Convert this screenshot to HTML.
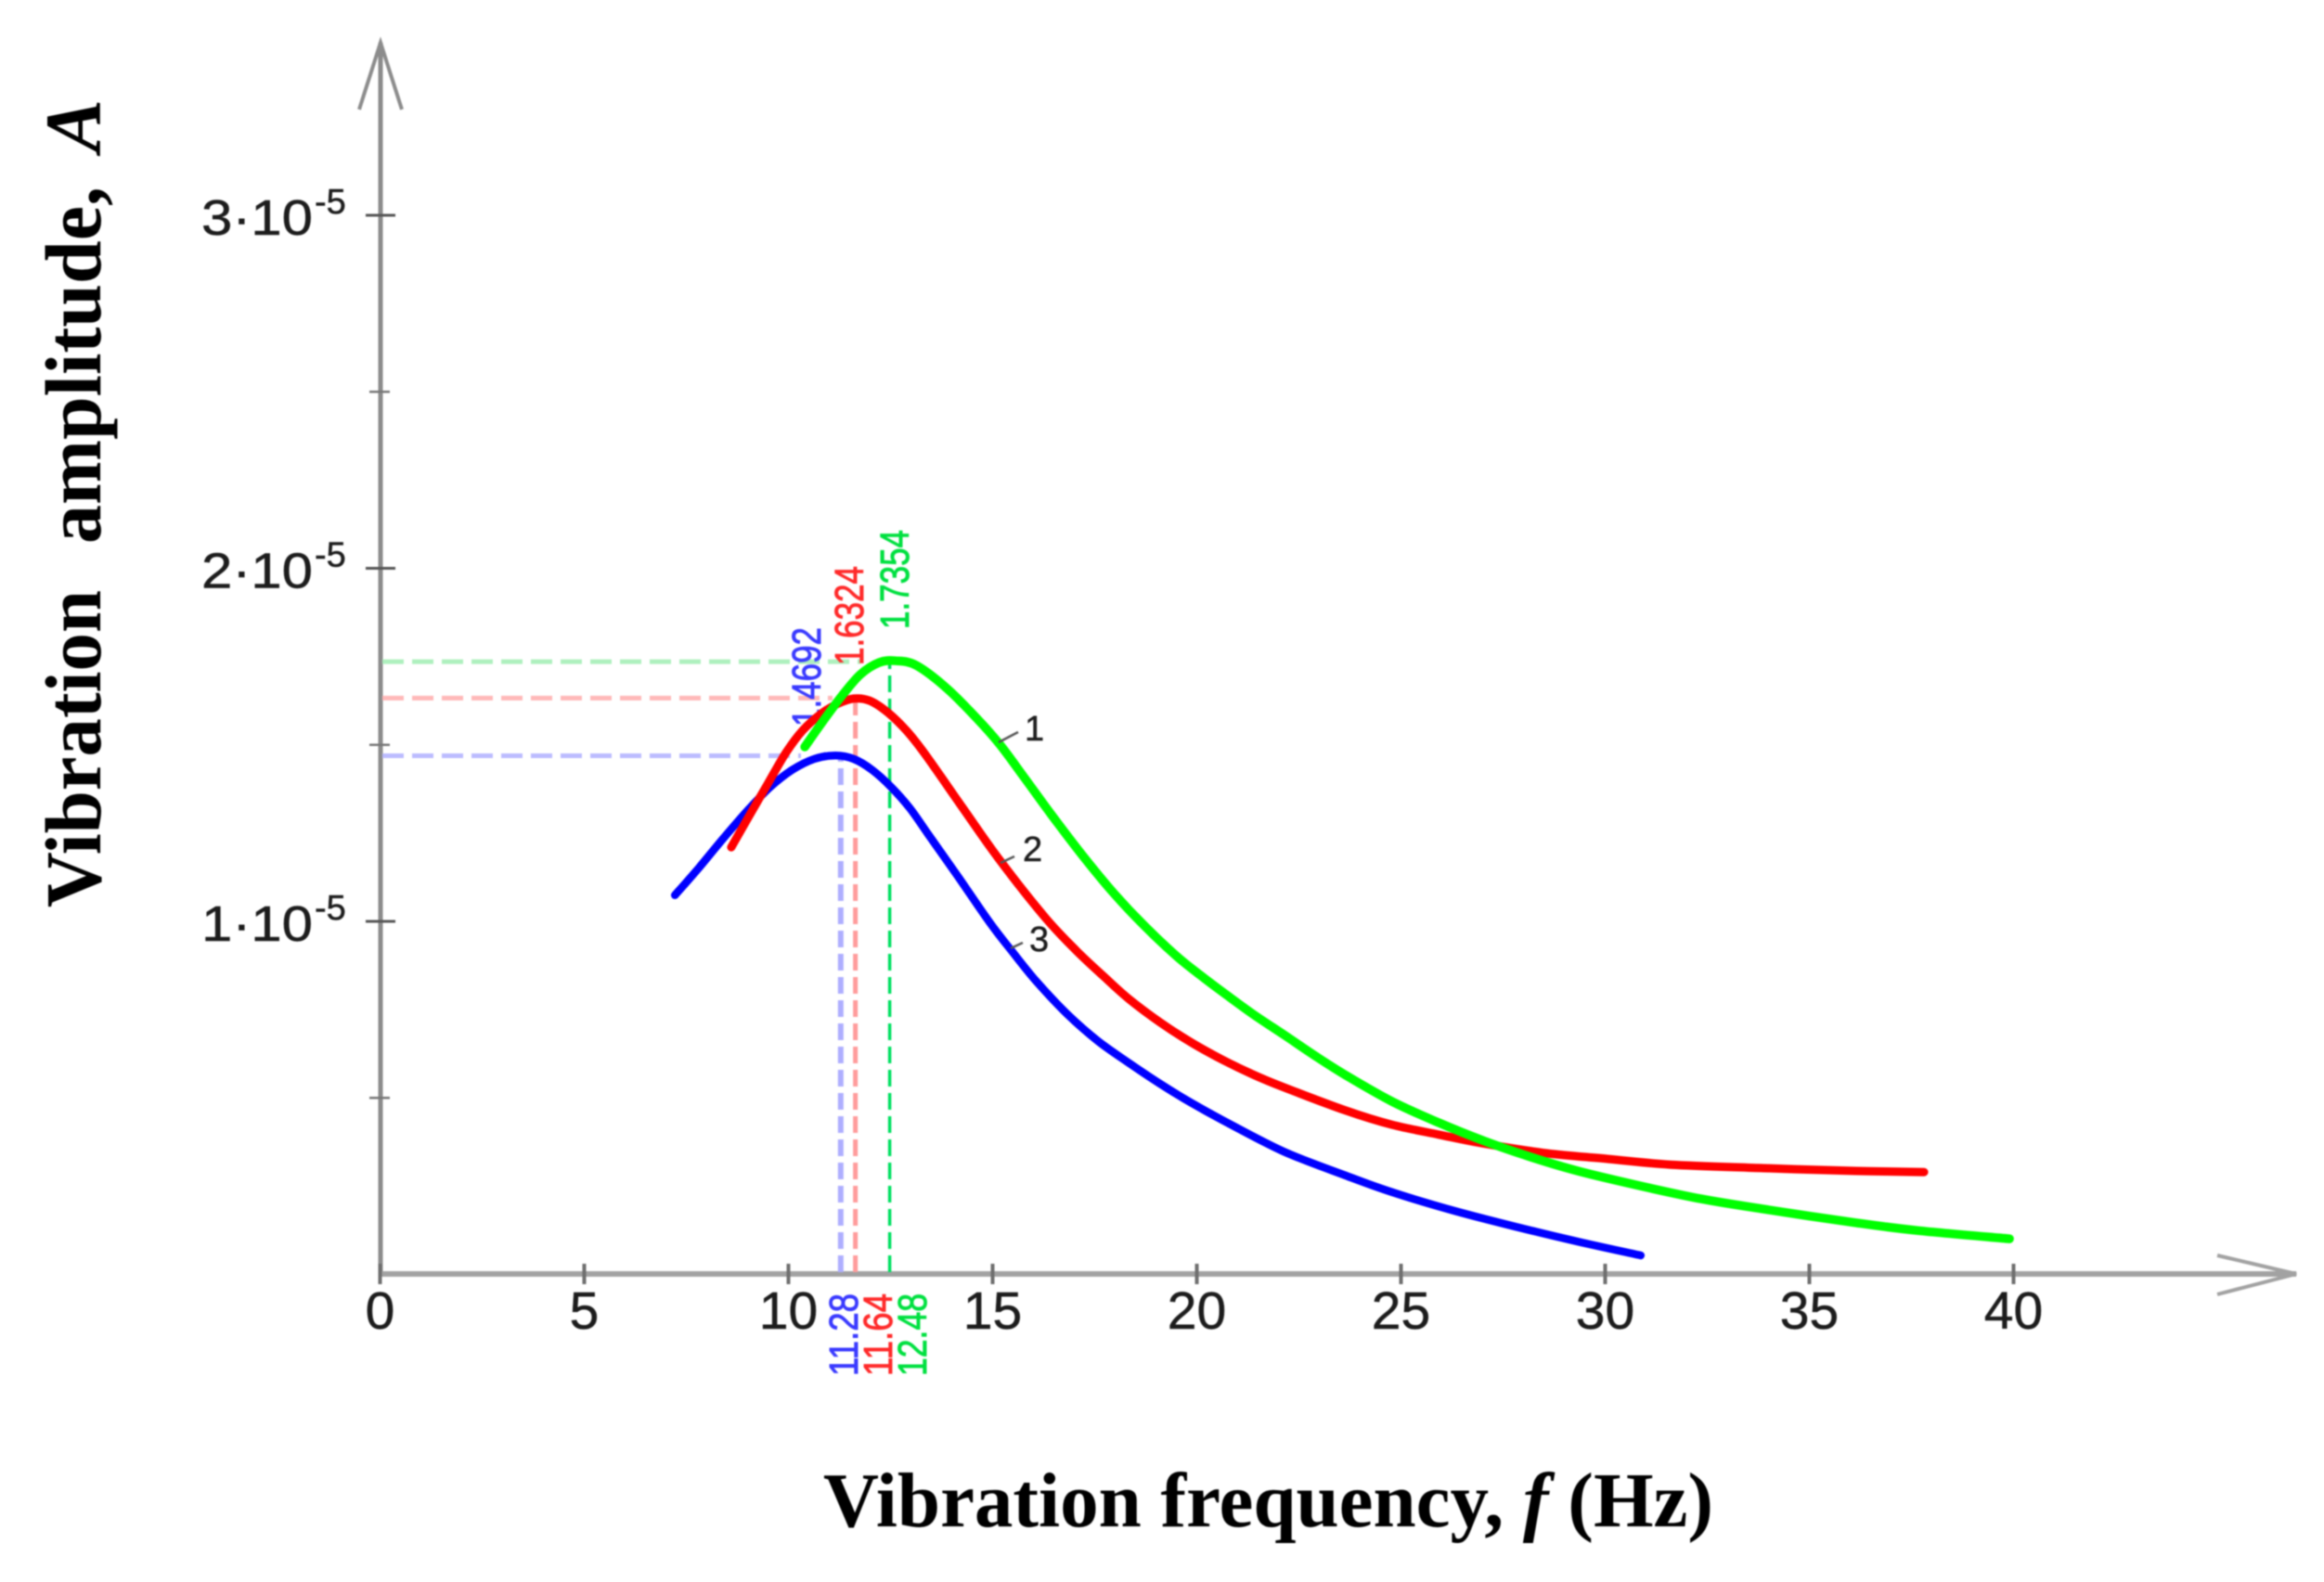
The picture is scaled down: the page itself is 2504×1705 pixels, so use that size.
<!DOCTYPE html>
<html>
<head>
<meta charset="utf-8">
<title>Vibration amplitude vs frequency</title>
<style>
html,body{margin:0;padding:0;background:#fff;}
body{width:2504px;height:1705px;overflow:hidden;}
svg{display:block;filter:blur(0.9px);}
.tick{font-family:"Liberation Sans",sans-serif;fill:#1c1c1c;stroke:#1c1c1c;stroke-width:0.5px;}
.title{font-family:"Liberation Serif",serif;font-weight:bold;fill:#000;}
.peak{font-family:"Liberation Sans",sans-serif;font-size:44px;stroke-width:0.9px;}
</style>
</head>
<body>
<svg id="chart" width="2504" height="1705" viewBox="0 0 2504 1705" xmlns="http://www.w3.org/2000/svg">
  <g>
    <text class="title" transform="translate(108,978) rotate(-90)" font-size="86" textLength="342" lengthAdjust="spacingAndGlyphs">Vibration</text>
    <text class="title" transform="translate(108,586) rotate(-90)" font-size="86" textLength="385" lengthAdjust="spacingAndGlyphs">amplitude,</text>
    <text class="title" transform="translate(108,164) rotate(-90)" font-size="86" font-style="italic" textLength="57" lengthAdjust="spacingAndGlyphs">A</text>
  </g>
  <text class="title" x="887" y="1645" font-size="84" textLength="959" lengthAdjust="spacingAndGlyphs">Vibration frequency, <tspan font-style="italic">f</tspan> (Hz)</text>
</svg>
<script>
const xTicks = [0, 5, 10, 15, 20, 25, 30, 35, 40];
const xTickLabels = ["0", "5", "10", "15", "20", "25", "30", "35", "40"];
const yTicks = [1, 2, 3];
const yTickLabels = ["1·10", "2·10", "3·10"];
const yMinorTicks = [0.5, 1.5, 2.5];
const yExponent = "-5";

const curve1F = [10.40,10.85,11.31,11.76,12.22,12.63,13.13,13.88,14.63,15.17,15.76,16.44,17.22,17.97,18.72,19.49,20.08,20.63,21.38,22.13,22.90,23.65,24.78,25.92,27.06,28.19,29.33,30.85,32.35,33.88,36.15,37.67,39.90];
const curve1A = [1.494,1.568,1.639,1.699,1.733,1.738,1.725,1.660,1.573,1.502,1.410,1.302,1.184,1.079,0.987,0.903,0.848,0.800,0.737,0.679,0.619,0.564,0.490,0.430,0.377,0.332,0.293,0.251,0.214,0.185,0.146,0.124,0.101];
const curve2F = [8.60,9.03,9.49,9.94,10.35,10.81,11.22,11.60,11.99,12.44,12.90,13.35,14.26,15.19,16.31,17.06,17.74,18.35,19.10,19.85,20.63,21.38,22.13,23.65,24.78,25.92,27.06,28.58,30.08,31.60,33.88,36.15,37.81];
const curve2A = [1.210,1.297,1.389,1.478,1.541,1.589,1.617,1.631,1.625,1.591,1.539,1.473,1.323,1.171,1.008,0.916,0.842,0.779,0.714,0.658,0.608,0.566,0.530,0.464,0.424,0.396,0.370,0.343,0.327,0.311,0.301,0.293,0.290];
const curve3F = [7.22,7.81,8.42,9.03,9.56,10.08,10.63,11.15,11.60,12.06,12.51,12.97,13.42,14.17,14.94,15.47,16.08,16.83,17.58,18.35,19.10,19.85,20.63,22.13,23.65,24.78,26.31,27.81,29.33,30.87];
const curve3A = [1.074,1.152,1.237,1.318,1.381,1.428,1.460,1.470,1.460,1.428,1.381,1.321,1.247,1.124,0.995,0.916,0.829,0.737,0.661,0.598,0.540,0.487,0.437,0.348,0.280,0.233,0.180,0.135,0.093,0.054];

const peakFreq = [12.48, 11.64, 11.28];
const peakAmp = [1.7354, 1.6324, 1.4692];
const peakFreqLabels = ["12.48", "11.64", "11.28"];
const peakAmpLabels = ["1.7354", "1.6324", "1.4692"];

const NS = "http://www.w3.org/2000/svg";
const svg = document.getElementById("chart");
const xScale = f => 409.5 + 44 * f;
const yScale = a => 1373.5 - 380.5 * a;

function make(tag, attrs, text) {
  const el = document.createElementNS(NS, tag);
  for (const k in attrs) el.setAttribute(k, attrs[k]);
  if (text !== undefined) el.textContent = text;
  svg.appendChild(el);
  return el;
}
function smoothPath(fs, as) {
  const p = fs.map((f, i) => [xScale(f), yScale(as[i])]);
  let d = "M" + p[0][0].toFixed(1) + " " + p[0][1].toFixed(1);
  for (let i = 0; i < p.length - 1; i++) {
    const a = p[Math.max(i - 1, 0)], b = p[i], c = p[i + 1], e = p[Math.min(i + 2, p.length - 1)];
    d += " C" + (b[0] + (c[0] - a[0]) / 6).toFixed(1) + " " + (b[1] + (c[1] - a[1]) / 6).toFixed(1) +
         " " + (c[0] - (e[0] - b[0]) / 6).toFixed(1) + " " + (c[1] - (e[1] - b[1]) / 6).toFixed(1) +
         " " + c[0].toFixed(1) + " " + c[1].toFixed(1);
  }
  return d;
}

/* axes */
const yAxis = make("line", {x1: 410, y1: 46, x2: 410, y2: 1373, stroke: "#8c8c8c", "stroke-width": 5});


const xAxis = make("line", {x1: 408, y1: 1373, x2: 2474, y2: 1373, stroke: "#a2a2a2", "stroke-width": 6});


const yArrow = make("path", {d: "M387 118 L410 46 L433 118", fill: "none", stroke: "#8c8c8c", "stroke-width": 4});


const xArrow = make("path", {d: "M2389 1353 L2474 1373 L2389 1395", fill: "none", stroke: "#a2a2a2", "stroke-width": 4});



/* ticks */
xTicks.forEach((t, i) => {
  const tick = make("line", {x1: xScale(t), y1: 1362, x2: xScale(t), y2: 1384, stroke: "#6e6e6e", "stroke-width": 4});
  
  
  const label = make("text", {class: "tick", x: xScale(t), y: 1432, "font-size": 57, "text-anchor": "middle"}, xTickLabels[i]);
  
  
});
yTicks.forEach((t, i) => {
  const tick = make("line", {x1: 394, y1: yScale(t), x2: 426, y2: yScale(t), stroke: "#555", "stroke-width": 3});
  
  
  const label = make("text", {class: "tick", x: 217, y: yScale(t) + 21, "font-size": 54, textLength: 120, lengthAdjust: "spacingAndGlyphs"}, yTickLabels[i]);
  
  
  const exp = make("text", {class: "tick", x: 339, y: yScale(t) - 2, "font-size": 38}, yExponent);
  
  
});
yMinorTicks.forEach(t => {
  const tick = make("line", {x1: 398, y1: yScale(t), x2: 420, y2: yScale(t), stroke: "#777", "stroke-width": 2.5});
  
  
});

/* peak guide lines */
const hGuideColors = ["#aef0be", "#ffb8b8", "#bcbcff"];
const hGuideEnds = [927, 897, 863];
const vGuideColors = ["#00e060", "#ff9c9c", "#aeaeff"];
const vGuideWidths = [3.5, 5, 6];
peakAmp.forEach((a, i) => {
  const h = make("line", {x1: 412, y1: yScale(a), x2: hGuideEnds[i], y2: yScale(a), stroke: hGuideColors[i], "stroke-width": 5, "stroke-dasharray": "23 9"});
  
  
  const v = make("line", {x1: xScale(peakFreq[i]), y1: 1371, x2: xScale(peakFreq[i]), y2: yScale(a), stroke: vGuideColors[i], "stroke-width": vGuideWidths[i], "stroke-dasharray": "18 7"});
  
  
});

/* peak labels */
const labelColors = ["#00e040", "#ff2a2a", "#3a3aff"];
const ampLabelX = [979, 930, 884];
const ampLabelY = [678, 717, 783];
const freqLabelX = [998, 961, 924];
peakAmpLabels.forEach((s, i) => {
  const t = make("text", {class: "peak", fill: labelColors[i], stroke: labelColors[i], transform: "translate(" + ampLabelX[i] + "," + ampLabelY[i] + ") rotate(-90)", textLength: 107, lengthAdjust: "spacingAndGlyphs"}, s);
  
  
});
peakFreqLabels.forEach((s, i) => {
  const t = make("text", {class: "peak", fill: labelColors[i], stroke: labelColors[i], transform: "translate(" + freqLabelX[i] + ",1483) rotate(-90)", textLength: 89, lengthAdjust: "spacingAndGlyphs"}, s);
  
  
});

/* curves */
const c3 = make("path", {d: smoothPath(curve3F, curve3A), fill: "none", stroke: "#0000ff", "stroke-width": 8.5, "stroke-linecap": "round"});


const c2 = make("path", {d: smoothPath(curve2F, curve2A), fill: "none", stroke: "#ff0000", "stroke-width": 9, "stroke-linecap": "round"});


const c1 = make("path", {d: smoothPath(curve1F, curve1A), fill: "none", stroke: "#00ff00", "stroke-width": 9.5, "stroke-linecap": "round"});



/* curve numbers */
const numbers = ["1", "2", "3"];
const numberX = [1104, 1102, 1109];
const numberY = [798, 928, 1025];
const leaderX1 = [1076, 1078, 1089];
const leaderY1 = [800, 930, 1022];
const leaderX2 = [1097, 1093, 1102];
const leaderY2 = [789, 923, 1016];
numbers.forEach((n, i) => {
  const l = make("line", {x1: leaderX1[i], y1: leaderY1[i], x2: leaderX2[i], y2: leaderY2[i], stroke: "#555", "stroke-width": 2.5});
  
  
  const t = make("text", {class: "tick", x: numberX[i], y: numberY[i], "font-size": 38}, n);
  
  
});
</script>
</body>
</html>
